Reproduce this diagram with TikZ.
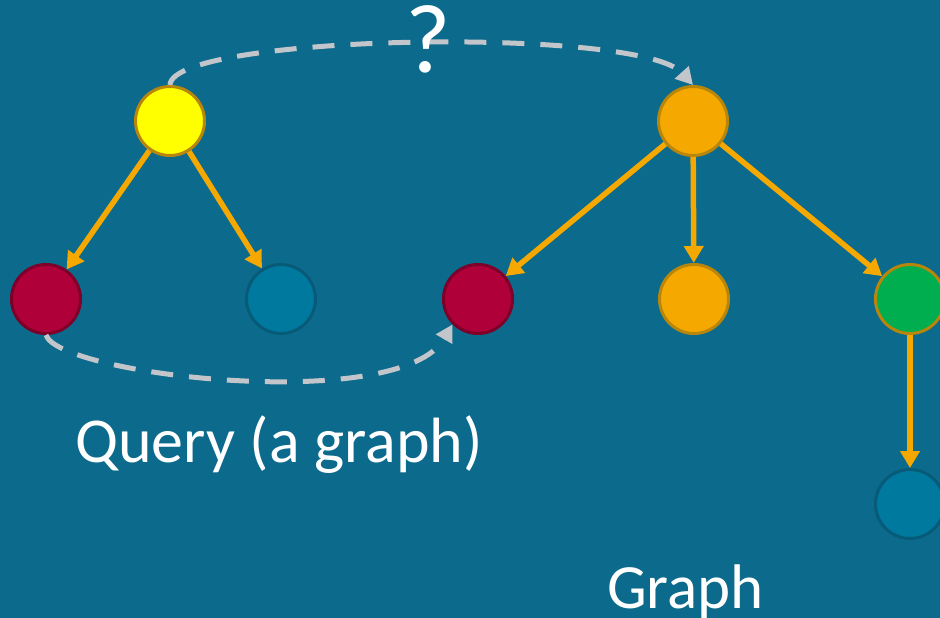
\documentclass[tikz,border=0pt]{standalone}
\usepackage{fontspec}
\setmainfont{Carlito}
\usetikzlibrary{arrows.meta}
\definecolor{bgblue}{HTML}{0C6A8C}
\definecolor{edgeorange}{HTML}{F5A800}
\definecolor{goldrim}{HTML}{B8860B}
\definecolor{qyellow}{HTML}{FFFF00}
\definecolor{gred}{HTML}{B0003A}
\definecolor{redrim}{HTML}{7E0028}
\definecolor{gblue}{HTML}{00799E}
\definecolor{bluerim}{HTML}{075B78}
\definecolor{ggreen}{HTML}{00AD4F}
\definecolor{dashgray}{HTML}{C2C6CA}
\begin{document}
\begin{tikzpicture}[x=1pt,y=-1pt,
  vtx/.style={circle,minimum size=69pt,inner sep=0pt,line width=3pt},
  edge/.style={draw=edgeorange,line width=5.5pt,-{Triangle[length=17pt,width=19pt]}},
  match/.style={draw=dashgray,line width=5pt,dash pattern=on 22pt off 16pt,-{Triangle[length=17pt,width=18pt]}},
  lbl/.style={text=white,inner sep=0pt}]
\useasboundingbox[fill=bgblue] (0,0) rectangle (940,618);
% query
\node[vtx,fill=qyellow,draw=goldrim] (qtop) at (170,121) {};
\node[vtx,fill=gred,draw=redrim] (qred) at (46,299) {};
\node[vtx,fill=gblue,draw=bluerim] (qblue) at (281,299) {};
% graph
\node[vtx,fill=edgeorange,draw=goldrim] (gtop) at (693,121) {};
\node[vtx,fill=gred,draw=redrim] (gred) at (478,299) {};
\node[vtx,fill=edgeorange,draw=goldrim] (gmid) at (694,299) {};
\node[vtx,fill=ggreen,draw=goldrim] (ggreen) at (910,299) {};
\node[vtx,fill=gblue,draw=bluerim] (gblue) at (910,504) {};
\draw[edge] (qtop) -- (qred);
\draw[edge] (qtop) -- (qblue);
\draw[edge] (gtop) -- (gred);
\draw[edge] (gtop) -- (gmid);
\draw[edge] (gtop) -- (ggreen);
\draw[edge] (ggreen) -- (gblue);
% matching
\draw[match] (qtop.north) .. controls (172,34) and (640,26) .. (gtop.north);
\draw[match] (qred.south) .. controls (58,375) and (400,415) .. (gred.south west);
\node[lbl,anchor=base,font=\fontsize{98}{110}\selectfont] (qmark) at (428,73) {?};
\node[lbl,anchor=base west,font=\fontsize{64}{76}\selectfont] (qlabel) at (75,462) {Query (a graph)};
\node[lbl,anchor=base west,font=\fontsize{63}{76}\selectfont] (glabel) at (607,608) {Graph};
\end{tikzpicture}
\end{document}
